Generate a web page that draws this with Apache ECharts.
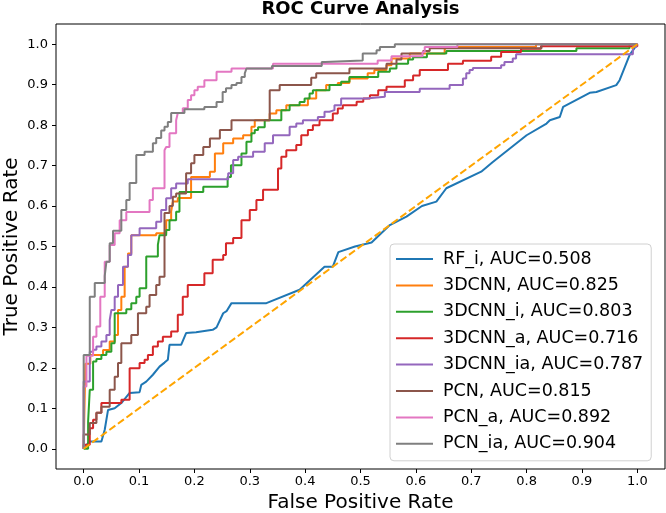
<!DOCTYPE html>
<html>
<head>
<meta charset="utf-8">
<script src="https://cdn.jsdelivr.net/npm/echarts@6/dist/echarts.min.js"></script>
<style>
html,body{margin:0;padding:0;background:#fff;}
#c{width:666px;height:513px;}
</style>
</head>
<body>
<div id="c"></div>
<script>
// ---- data (fpr, tpr) ----
const xTicks = [0, 0.1, 0.2, 0.3, 0.4, 0.5, 0.6, 0.7, 0.8, 0.9, 1.0];
const yTicks = [0, 0.1, 0.2, 0.3, 0.4, 0.5, 0.6, 0.7, 0.8, 0.9, 1.0];
const seriesNames = ["RF_i, AUC=0.508", "3DCNN, AUC=0.825", "3DCNN_i, AUC=0.803", "3DCNN_a, AUC=0.716",
  "3DCNN_ia, AUC=0.787", "PCN, AUC=0.815", "PCN_a, AUC=0.892", "PCN_ia, AUC=0.904"];

const rfI = [[0,0],[0.01,0.018],[0.032,0.018],[0.038,0.047],[0.044,0.096],[0.056,0.1],[0.068,0.113],[0.083,0.138],[0.101,0.14],[0.104,0.158],[0.113,0.166],[0.125,0.183],[0.137,0.203],[0.146,0.213],[0.152,0.22],[0.155,0.257],[0.176,0.257],[0.185,0.286],[0.203,0.288],[0.233,0.294],[0.24,0.3],[0.252,0.335],[0.258,0.34],[0.267,0.36],[0.33,0.36],[0.39,0.393],[0.435,0.45],[0.45,0.45],[0.46,0.486],[0.49,0.5],[0.52,0.51],[0.553,0.553],[0.583,0.574],[0.611,0.6],[0.637,0.611],[0.655,0.644],[0.718,0.685],[0.739,0.709],[0.8,0.775],[0.836,0.804],[0.842,0.812],[0.86,0.82],[0.866,0.845],[0.914,0.88],[0.926,0.882],[0.962,0.899],[0.968,0.911],[0.986,0.973],[0.992,0.985],[1,1]];

const cnn = [[0,0],[0.003,0.21],[0.012,0.232],[0.035,0.244],[0.047,0.265],[0.056,0.281],[0.062,0.343],[0.068,0.376],[0.074,0.45],[0.08,0.483],[0.086,0.528],[0.131,0.533],[0.149,0.565],[0.158,0.586],[0.161,0.611],[0.17,0.62],[0.194,0.672],[0.228,0.685],[0.237,0.73],[0.252,0.755],[0.27,0.767],[0.288,0.775],[0.303,0.796],[0.309,0.812],[0.336,0.829],[0.348,0.837],[0.366,0.849],[0.405,0.866],[0.42,0.886],[0.438,0.899],[0.459,0.904],[0.48,0.915],[0.513,0.928],[0.525,0.936],[0.547,0.948],[0.556,0.965],[0.589,0.977],[0.652,0.987],[0.655,0.993],[0.817,1.0],[1,1]];

const cnnI = [[0,0],[0.008,0.067],[0.011,0.146],[0.017,0.216],[0.023,0.222],[0.032,0.232],[0.041,0.24],[0.05,0.261],[0.056,0.335],[0.077,0.345],[0.086,0.36],[0.095,0.376],[0.101,0.397],[0.113,0.475],[0.134,0.504],[0.137,0.528],[0.149,0.541],[0.155,0.565],[0.167,0.586],[0.173,0.635],[0.216,0.648],[0.26,0.672],[0.266,0.701],[0.285,0.73],[0.294,0.759],[0.303,0.78],[0.309,0.788],[0.315,0.795],[0.327,0.812],[0.357,0.837],[0.372,0.849],[0.39,0.857],[0.399,0.866],[0.408,0.878],[0.414,0.886],[0.444,0.899],[0.465,0.907],[0.48,0.919],[0.532,0.932],[0.553,0.94],[0.565,0.952],[0.586,0.962],[0.595,0.968],[0.62,0.977],[0.655,0.983],[0.89,0.99],[0.986,1.0],[1,1]];

const cnnA = [[0,0],[0,0.01],[0.011,0.051],[0.017,0.072],[0.023,0.089],[0.032,0.113],[0.068,0.121],[0.083,0.199],[0.101,0.212],[0.11,0.22],[0.116,0.232],[0.125,0.253],[0.134,0.265],[0.143,0.277],[0.158,0.29],[0.17,0.331],[0.179,0.376],[0.188,0.405],[0.218,0.434],[0.233,0.467],[0.252,0.479],[0.257,0.508],[0.27,0.521],[0.285,0.565],[0.3,0.59],[0.312,0.615],[0.324,0.64],[0.351,0.693],[0.357,0.722],[0.366,0.738],[0.384,0.751],[0.393,0.775],[0.405,0.788],[0.414,0.8],[0.426,0.812],[0.45,0.829],[0.459,0.841],[0.468,0.849],[0.493,0.858],[0.505,0.866],[0.517,0.874],[0.532,0.886],[0.547,0.895],[0.58,0.911],[0.595,0.923],[0.607,0.936],[0.658,0.952],[0.685,0.959],[0.736,0.969],[0.754,0.981],[0.79,0.989],[0.826,0.995],[1,1]];

const cnnIA = [[0,0],[0,0.166],[0.011,0.24],[0.017,0.245],[0.023,0.253],[0.032,0.265],[0.041,0.281],[0.047,0.318],[0.05,0.343],[0.056,0.376],[0.062,0.405],[0.071,0.45],[0.08,0.479],[0.086,0.528],[0.101,0.545],[0.131,0.561],[0.14,0.59],[0.149,0.619],[0.158,0.644],[0.167,0.656],[0.188,0.666],[0.261,0.681],[0.27,0.714],[0.279,0.722],[0.306,0.734],[0.327,0.755],[0.342,0.775],[0.372,0.796],[0.384,0.804],[0.396,0.812],[0.423,0.82],[0.435,0.833],[0.444,0.837],[0.453,0.849],[0.465,0.866],[0.51,0.87],[0.544,0.882],[0.607,0.89],[0.661,0.899],[0.685,0.915],[0.691,0.928],[0.697,0.936],[0.703,0.941],[0.754,0.948],[0.76,0.956],[0.775,0.965],[0.781,0.975],[0.992,0.993],[0.998,1.0],[1,1]];

const pcn = [[0,0],[0,0.035],[0.011,0.064],[0.023,0.089],[0.032,0.104],[0.047,0.146],[0.056,0.178],[0.062,0.212],[0.068,0.261],[0.086,0.281],[0.098,0.335],[0.113,0.351],[0.119,0.38],[0.131,0.405],[0.137,0.425],[0.146,0.583],[0.155,0.6],[0.161,0.623],[0.167,0.631],[0.185,0.681],[0.194,0.706],[0.2,0.726],[0.216,0.746],[0.228,0.767],[0.246,0.788],[0.267,0.812],[0.336,0.886],[0.354,0.899],[0.411,0.917],[0.42,0.928],[0.48,0.94],[0.547,0.952],[0.565,0.962],[0.574,0.977],[0.613,0.983],[0.625,0.99],[0.827,1.0],[1,1]];

const pcnA = [[0,0],[0,0.154],[0.005,0.23],[0.017,0.277],[0.023,0.302],[0.03,0.376],[0.038,0.462],[0.047,0.504],[0.056,0.533],[0.065,0.565],[0.077,0.585],[0.119,0.615],[0.125,0.644],[0.146,0.738],[0.149,0.746],[0.155,0.78],[0.167,0.812],[0.17,0.83],[0.179,0.842],[0.188,0.862],[0.194,0.874],[0.2,0.886],[0.206,0.895],[0.218,0.911],[0.24,0.932],[0.267,0.94],[0.342,0.952],[0.531,0.96],[0.556,0.97],[0.612,0.981],[0.616,0.993],[0.675,1.0],[1,1]];

const pcnIA = [[0,0],[0,0.232],[0.011,0.376],[0.02,0.41],[0.038,0.427],[0.041,0.462],[0.047,0.508],[0.053,0.539],[0.068,0.59],[0.077,0.615],[0.083,0.657],[0.095,0.726],[0.11,0.734],[0.125,0.755],[0.131,0.768],[0.14,0.787],[0.146,0.796],[0.152,0.808],[0.158,0.83],[0.182,0.839],[0.218,0.845],[0.24,0.857],[0.251,0.882],[0.257,0.891],[0.267,0.899],[0.276,0.904],[0.285,0.919],[0.291,0.928],[0.294,0.94],[0.34,0.946],[0.43,0.956],[0.436,0.96],[0.504,0.977],[0.529,0.985],[0.535,0.993],[0.562,1.0],[1,1]];

const chance = [[0,0],[1,1]];

const curves = [rfI, cnn, cnnI, cnnA, cnnIA, pcn, pcnA, pcnIA];
const stepped = [false, true, true, true, true, true, true, true];
const colors = ['#1f77b4','#ff7f0e','#2ca02c','#d62728','#9467bd','#8c564b','#e377c2','#7f7f7f'];

const FONT = 'DejaVu Sans';
const chart = echarts.init(document.getElementById('c'), null, {renderer: 'canvas'});

const series = curves.map((d, i) => ({
  name: seriesNames[i],
  type: 'line',
  data: d,
  step: stepped[i] ? 'end' : false,
  symbol: 'none',
  lineStyle: {color: colors[i], width: 2},
  itemStyle: {color: colors[i]},
  animation: false
}));
series.push({
  name: 'chance',
  type: 'line',
  data: chance,
  symbol: 'none',
  lineStyle: {color: '#ffa500', width: 2, type: [7.4, 3.2]},
  animation: false
});

chart.setOption({
  animation: false,
  backgroundColor: '#fff',
  textStyle: {fontFamily: FONT},
  title: {
    text: 'ROC Curve Analysis',
    left: 360.5, textAlign: 'center', top: 0, padding: 0,
    textStyle: {fontFamily: FONT, fontSize: 18, fontWeight: 'bold', color: '#000'}
  },
  grid: {left: 56, right: 1, top: 24, bottom: 44, show: true, borderColor: '#000', borderWidth: 1,
    containLabel: false, outerBoundsMode: 'none'},
  legend: {
    data: seriesNames,
    orient: 'vertical',
    left: 390, top: 244,
    icon: 'rect', itemWidth: 37, itemHeight: 2,
    itemGap: 6.4,
    padding: [5, 8, 7, 6],
    backgroundColor: 'rgba(255,255,255,0.8)',
    borderColor: '#d0d0d0', borderWidth: 1, borderRadius: 4,
    textStyle: {fontFamily: FONT, fontSize: 17.5, color: '#000', lineHeight: 20, padding: [0,0,0,5]}
  },
  xAxis: {
    type: 'value', min: -0.05, max: 1.05,
    name: 'False Positive Rate', nameLocation: 'middle', nameGap: 22,
    nameTextStyle: {fontFamily: FONT, fontSize: 20, color: '#000'},
    axisLine: {show: false, onZero: false},
    splitLine: {show: false},
    axisTick: {show: true, length: 4, lineStyle: {color: '#000', width: 1}, customValues: xTicks},
    axisLabel: {customValues: xTicks, formatter: v => v.toFixed(1), fontFamily: FONT, fontSize: 13, color: '#000', margin: 6}
  },
  yAxis: {
    type: 'value', min: -0.05, max: 1.05,
    name: 'True Positive Rate', nameLocation: 'middle', nameGap: 34, nameMoveOverlap: false,
    nameTextStyle: {fontFamily: FONT, fontSize: 20, color: '#000'},
    axisLine: {show: false, onZero: false},
    splitLine: {show: false},
    axisTick: {show: true, length: 4, lineStyle: {color: '#000', width: 1}, customValues: yTicks},
    axisLabel: {customValues: yTicks, formatter: v => v.toFixed(1), fontFamily: FONT, fontSize: 13, color: '#000', margin: 8}
  },
  series: series
});
</script>
</body>
</html>
